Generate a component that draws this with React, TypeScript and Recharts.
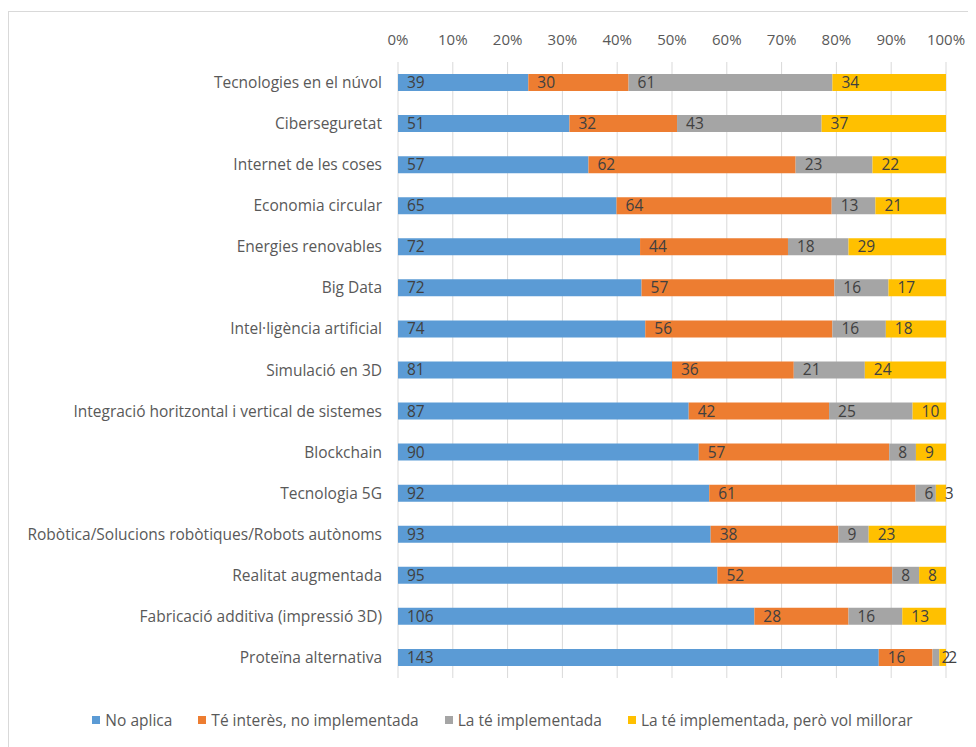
import { BarChart, Bar, XAxis, YAxis, CartesianGrid, Legend, LabelList } from "recharts";

const categories = [
  "Tecnologies en el núvol",
  "Ciberseguretat",
  "Internet de les coses",
  "Economia circular",
  "Energies renovables",
  "Big Data",
  "Intel·ligència artificial",
  "Simulació en 3D",
  "Integració horitzontal i vertical de sistemes",
  "Blockchain",
  "Tecnologia 5G",
  "Robòtica/Solucions robòtiques/Robots autònoms",
  "Realitat augmentada",
  "Fabricació additiva (impressió 3D)",
  "Proteïna alternativa",
];

const noAplica = [39, 51, 57, 65, 72, 72, 74, 81, 87, 90, 92, 93, 95, 106, 143];
const teInteres = [30, 32, 62, 64, 44, 57, 56, 36, 42, 57, 61, 38, 52, 28, 16];
const implementada = [61, 43, 23, 13, 18, 16, 16, 21, 25, 8, 6, 9, 8, 16, 2];
const volMillorar = [34, 37, 22, 21, 29, 17, 18, 24, 10, 9, 3, 23, 8, 13, 2];

const xTicks = [0, 0.1, 0.2, 0.3, 0.4, 0.5, 0.6, 0.7, 0.8, 0.9, 1];

const series = [
  { key: "noAplica", name: "No aplica", color: "#5B9BD5" },
  { key: "teInteres", name: "Té interès, no implementada", color: "#ED7D31" },
  { key: "implementada", name: "La té implementada", color: "#A5A5A5" },
  { key: "volMillorar", name: "La té implementada, però vol millorar", color: "#FFC000" },
];

const data = categories.map((name, i) => ({
  name,
  noAplica: noAplica[i],
  teInteres: teInteres[i],
  implementada: implementada[i],
  volMillorar: volMillorar[i],
}));

const font = "'Open Sans', 'Liberation Sans', sans-serif";

function LegendContent() {
  return (
    <div style={{ display: "flex", justifyContent: "center", height: 20, alignItems: "center", fontFamily: font, fontSize: 15.5, color: "#595959", paddingLeft: 76 }}>
      {series.map((s) => (
        <div key={s.key} style={{ display: "flex", alignItems: "center", marginRight: 26 }}>
          <span style={{ width: 8, height: 8, background: s.color, display: "inline-block", marginRight: 5 }} />
          <span>{s.name}</span>
        </div>
      ))}
    </div>
  );
}

export default function App() {
  return (
    <div style={{ width: 968, height: 740, marginTop: 3, border: "1px solid #D9D9D9", borderRight: "none", borderBottom: "none", background: "#fff" }}>
      <BarChart
        width={966}
        height={735}
        data={data}
        layout="vertical"
        stackOffset="expand"
        barSize={17}
        margin={{ top: 20, right: 29, bottom: 49, left: 0 }}
      >
        <CartesianGrid horizontal={false} stroke="#D9D9D9" />
        <XAxis
          type="number"
          orientation="top"
          domain={[0, 1]}
          ticks={xTicks}
          tickFormatter={(v) => `${Math.round(v * 100)}%`}
          axisLine={false}
          tickLine={false}
          tickSize={0}
          tickMargin={17}
          height={30}
          interval={0}
          tick={{ fill: "#595959", fontSize: 15, fontFamily: font }}
        />
        <YAxis
          type="category"
          dataKey="name"
          width={389}
          axisLine={false}
          tickLine={false}
          tickSize={0}
          tickMargin={16}
          interval={0}
          tick={{ fill: "#595959", fontSize: 15.5, fontFamily: font }}
        />
        {series.map((s) => (
          <Bar key={s.key} dataKey={s.key} name={s.name} stackId="a" fill={s.color} isAnimationActive={false}>
            <LabelList
              dataKey={s.key}
              position="insideLeft"
              offset={9}
              fill="#404040"
              fontSize={15.5}
              fontFamily={font}
            />
          </Bar>
        ))}
        <Legend verticalAlign="bottom" content={<LegendContent />} wrapperStyle={{ bottom: 17 }} />
      </BarChart>
    </div>
  );
}
